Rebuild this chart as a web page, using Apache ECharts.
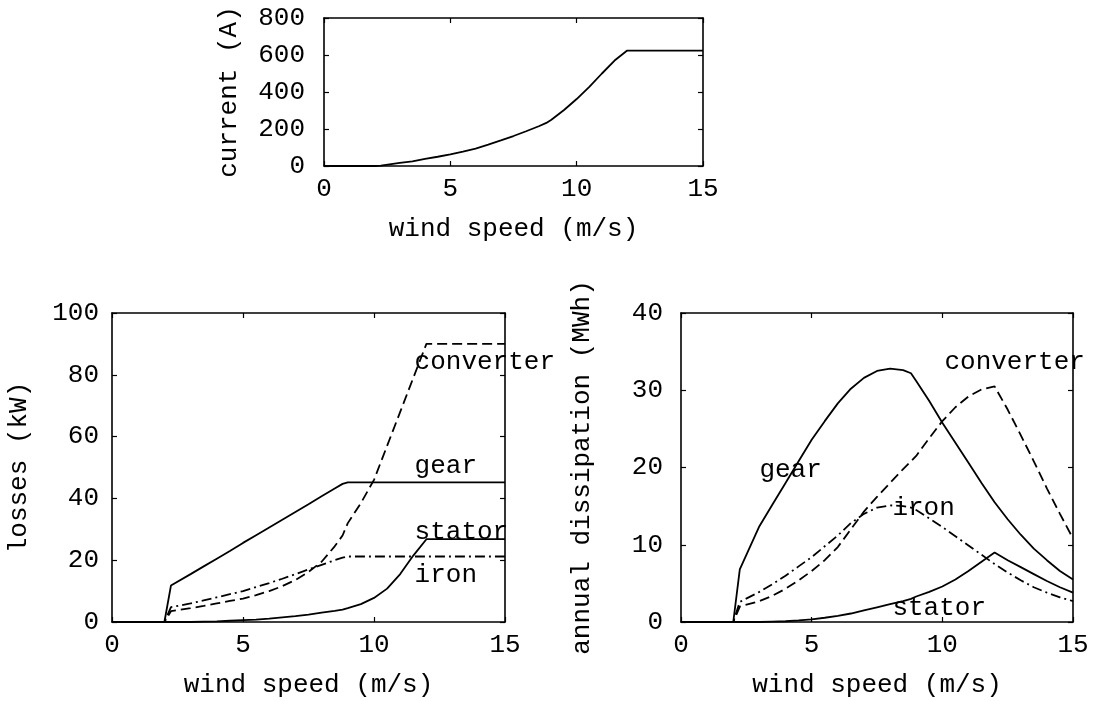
<!DOCTYPE html>
<html>
<head>
<meta charset="utf-8">
<script src="https://cdn.jsdelivr.net/npm/echarts@6/dist/echarts.min.js"></script>
<style>
html,body{margin:0;padding:0;background:#fff;}
#c{width:1093px;height:701px;}
</style>
</head>
<body>
<div id="c"></div>
<script>
// ---- data ----
const windSpeed = [0, 2, 2.25, 3, 3.5, 4, 4.5, 5, 5.5, 6, 6.5, 7, 7.5, 8, 8.5, 8.8, 9, 9.5, 10, 10.5, 11, 11.5, 12, 12.5, 13, 13.5, 14, 14.5, 15];

const current = [0, 0, 2, 17, 25, 38, 50, 63, 78, 94, 115, 138, 162, 188, 215, 233, 250, 303, 362, 428, 500, 570, 624, 624, 624, 624, 624, 624, 624];

const lossGear      = [0, 0, 11.8, 15.5, 18, 20.5, 23, 25.6, 28.1, 30.6, 33.1, 35.6, 38.1, 40.7, 43.2, 44.7, 45.2, 45.2, 45.2, 45.2, 45.2, 45.2, 45.2, 45.2, 45.2, 45.2, 45.2, 45.2, 45.2];
const lossConverter = [0, 0, 3.5, 4.5, 5.2, 6, 6.8, 7.6, 8.7, 10, 11.6, 13.6, 16.2, 19.5, 24.5, 28, 32, 38.5, 46, 57, 68, 79, 90, 90, 90, 90, 90, 90, 90];
const lossIron      = [0, 0, 4.8, 6, 7, 8, 9, 10, 11.3, 12.6, 14, 15.5, 17, 18.5, 20, 20.8, 21.2, 21.2, 21.2, 21.2, 21.2, 21.2, 21.2, 21.2, 21.2, 21.2, 21.2, 21.2, 21.2];
const lossStator    = [0, 0, 0, 0, 0.1, 0.2, 0.4, 0.6, 0.8, 1.1, 1.5, 1.9, 2.4, 3.0, 3.6, 4.0, 4.5, 5.8, 7.8, 10.8, 15.5, 21.5, 26.8, 26.8, 26.8, 26.8, 26.8, 26.8, 26.8];

const dissGear      = [0, 0, 6.8, 12.4, 15.2, 18, 20.8, 23.6, 26, 28.3, 30.2, 31.6, 32.5, 32.8, 32.6, 32.2, 31.2, 28.6, 25.8, 23.2, 20.6, 18, 15.5, 13.3, 11.3, 9.5, 8, 6.6, 5.5];
const dissConverter = [0, 0, 2.0, 2.7, 3.4, 4.3, 5.4, 6.6, 8, 9.7, 12, 14.3, 16.2, 18, 19.8, 20.8, 21.5, 23.8, 26, 27.8, 29.2, 30.1, 30.5, 27.5, 24.2, 20.8, 17.3, 14, 10.8];
const dissIron      = [0, 0, 2.6, 3.9, 4.9, 6, 7.2, 8.4, 9.8, 11.2, 12.8, 14, 14.8, 15.1, 15, 14.8, 14.5, 13.4, 12.3, 11.1, 9.9, 8.7, 7.5, 6.4, 5.4, 4.5, 3.8, 3.2, 2.7];
const dissStator    = [0, 0, 0, 0, 0.05, 0.1, 0.2, 0.35, 0.55, 0.8, 1.1, 1.5, 1.9, 2.3, 2.7, 3.0, 3.3, 3.9, 4.6, 5.5, 6.6, 7.8, 9.0, 8.0, 7.1, 6.2, 5.3, 4.5, 3.8];

const xTicks = [0, 5, 10, 15];
const currentTicks = [0, 200, 400, 600, 800];
const lossTicks = [0, 20, 40, 60, 80, 100];
const dissTicks = [0, 10, 20, 30, 40];

const curveNames = ['converter', 'gear', 'stator', 'iron'];
// label anchor points (data coordinates) – layout only, same order as curveNames
const lossLabelAnchors = [[11.55, 84.2], [11.55, 50.3], [11.55, 29.2], [11.55, 15.3]];
const dissLabelAnchors = [[10.08, 33.7], [3.0, 19.7], [8.09, 1.85], [8.09, 14.8]];

// ---- styling ----
const FONT = "'Liberation Mono', 'Courier New', monospace";
const FS = 26;
const INK = '#000';

function pairs(xs, ys) { return xs.map((x, i) => [x, ys[i]]); }

function axisBase(gi, ticks) {
  return {
    gridIndex: gi, type: 'value',
    min: ticks[0], max: ticks[ticks.length - 1], interval: ticks[1] - ticks[0],
    splitLine: { show: false },
    axisLine: { show: true, onZero: false, lineStyle: { color: INK, width: 1.6 } },
    axisTick: { show: true, inside: true, length: 5, lineStyle: { color: INK, width: 1.2 } }
  };
}

function xAxes(gi, ticks) {
  return [
    Object.assign(axisBase(gi, ticks), {
      position: 'bottom',
      name: 'wind speed (m/s)', nameLocation: 'middle', nameGap: 50,
      nameTextStyle: { fontFamily: FONT, fontSize: FS, color: INK },
      axisLabel: { show: true, margin: 10, fontFamily: FONT, fontSize: FS, color: INK }
    }),
    Object.assign(axisBase(gi, ticks), { position: 'top', axisLabel: { show: false } })
  ];
}

function yAxes(gi, ticks, name, gap, margin) {
  return [
    Object.assign(axisBase(gi, ticks), {
      position: 'left',
      name: name, nameLocation: 'middle', nameGap: gap,
      nameTextStyle: { fontFamily: FONT, fontSize: FS, color: INK },
      axisLabel: { show: true, margin: margin, fontFamily: FONT, fontSize: FS, color: INK }
    }),
    Object.assign(axisBase(gi, ticks), { position: 'right', axisLabel: { show: false } })
  ];
}

const dashed = [10, 5];
const dashDot = [10, 4, 2, 4];
function curve(name, xi, yi, ys, type) {
  return {
    name: name, type: 'line', xAxisIndex: xi, yAxisIndex: yi,
    data: pairs(windSpeed, ys), showSymbol: false, symbol: 'none',
    smooth: false, animation: false, silent: true,
    lineStyle: { color: INK, width: 1.8, type: type || 'solid' }, z: 3
  };
}
function labels(xi, yi, anchors) {
  return {
    type: 'scatter', xAxisIndex: xi, yAxisIndex: yi, animation: false, silent: true,
    symbolSize: 0, itemStyle: { color: 'transparent', opacity: 1 }, z: 5,
    data: anchors.map((a, i) => ({ value: a, name: curveNames[i] })),
    label: {
      show: true, position: 'right', distance: 0, formatter: '{b}',
      fontFamily: FONT, fontSize: FS, color: INK, opacity: 1
    }
  };
}

const xa = [].concat(xAxes(0, xTicks), xAxes(1, xTicks), xAxes(2, xTicks));
const ya = [].concat(
  yAxes(0, currentTicks, 'current (A)', 82, 19),
  yAxes(1, lossTicks, 'losses (kW)', 80, 13),
  yAxes(2, dissTicks, 'annual dissipation (MWh)', 86, 18)
);

const option = {
  backgroundColor: '#fff',
  animation: false,
  grid: [
    { left: 324, top: 18, width: 379, height: 148 },
    { left: 112, top: 313, width: 393, height: 309 },
    { left: 681, top: 313, width: 392, height: 309 }
  ],
  xAxis: xa,
  yAxis: ya,
  series: [
    curve('current', 0, 0, current),
    curve('gear', 2, 2, lossGear),
    curve('converter', 2, 2, lossConverter, dashed),
    curve('iron', 2, 2, lossIron, dashDot),
    curve('stator', 2, 2, lossStator),
    labels(2, 2, lossLabelAnchors),
    curve('gear', 4, 4, dissGear),
    curve('converter', 4, 4, dissConverter, dashed),
    curve('iron', 4, 4, dissIron, dashDot),
    curve('stator', 4, 4, dissStator),
    labels(4, 4, dissLabelAnchors)
  ]
};

const chart = echarts.init(document.getElementById('c'), null, { renderer: 'canvas' });
chart.setOption(option);
</script>
</body>
</html>
